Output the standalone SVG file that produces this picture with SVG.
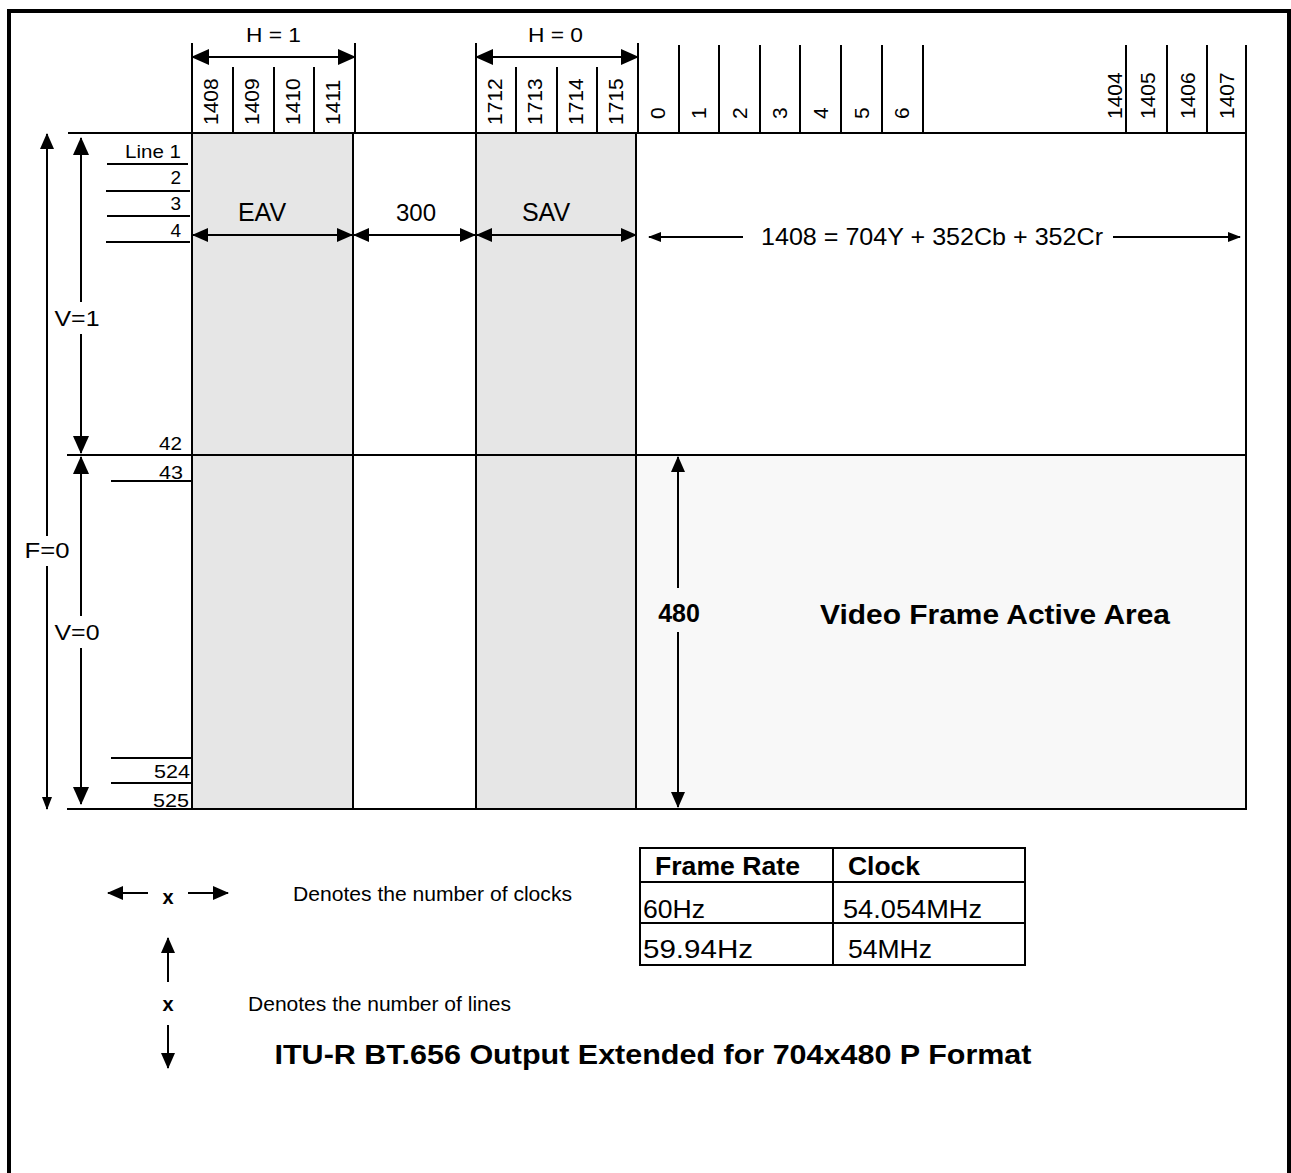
<svg xmlns="http://www.w3.org/2000/svg" width="1291" height="1173" viewBox="0 0 1291 1173">
<style>
text{font-family:"Liberation Sans",Arial,sans-serif;fill:#000}
.b{font-weight:bold}
.ln{stroke:#000;stroke-width:2;fill:none}
.th{stroke:#000;stroke-width:1.8;fill:none}
.num{font-size:21px}
.lab{font-size:19px}
.end{text-anchor:end}
.mid{text-anchor:middle}
.tb{font-size:25px}
.blk{fill:#e6e6e6;stroke:#000;stroke-width:2}
.act{fill:#f8f8f8;stroke:#000;stroke-width:2}
</style>
<defs>
<marker id="ah" viewBox="0 0 18 16" refX="17" refY="8" markerWidth="18" markerHeight="16" markerUnits="userSpaceOnUse" orient="auto-start-reverse"><path d="M0,0 L18,8 L0,16 z" fill="#000"/></marker>
<marker id="am" viewBox="0 0 16 14" refX="15" refY="7" markerWidth="16" markerHeight="14" markerUnits="userSpaceOnUse" orient="auto-start-reverse"><path d="M0,0 L16,7 L0,14 z" fill="#000"/></marker>
<marker id="as" viewBox="0 0 13 10" refX="12" refY="5" markerWidth="13" markerHeight="10" markerUnits="userSpaceOnUse" orient="auto-start-reverse"><path d="M0,0 L13,5 L0,10 z" fill="#000"/></marker>
</defs>
<rect x="9" y="11" width="1280" height="1200" fill="#fff" stroke="#000" stroke-width="4"/>

<g id="frame">
<rect id="eav-block" class="blk" x="192" y="133" width="161" height="676"/>
<rect id="sav-block" class="blk" x="476" y="133" width="160" height="676"/>
<rect id="active-area" class="act" x="636" y="455" width="610" height="354"/>
<line class="ln" x1="68" y1="133" x2="1246" y2="133"/>
<line class="ln" x1="67" y1="455" x2="1246" y2="455"/>
<line class="ln" x1="67" y1="809" x2="1246" y2="809"/>
<line class="ln" x1="1246" y1="45" x2="1246" y2="809"/>
</g>

<g id="header-eav">
<line class="ln" x1="192" y1="43" x2="192" y2="133"/>
<line class="ln" x1="233" y1="67" x2="233" y2="133"/>
<line class="ln" x1="274" y1="67" x2="274" y2="133"/>
<line class="ln" x1="314" y1="67" x2="314" y2="133"/>
<line class="ln" x1="355" y1="43" x2="355" y2="133"/>
<text x="273.5" y="42" font-size="21" class="mid" textLength="55" lengthAdjust="spacingAndGlyphs">H = 1</text>
<text class="num" transform="translate(218,125) rotate(-90)">1408</text>
<text class="num" transform="translate(259,125) rotate(-90)">1409</text>
<text class="num" transform="translate(300,125) rotate(-90)">1410</text>
<text class="num" transform="translate(340,125) rotate(-90)">1411</text>
</g>

<g id="header-sav">
<line class="ln" x1="476" y1="43" x2="476" y2="133"/>
<line class="ln" x1="516" y1="67" x2="516" y2="133"/>
<line class="ln" x1="557" y1="67" x2="557" y2="133"/>
<line class="ln" x1="597" y1="67" x2="597" y2="133"/>
<line class="ln" x1="638" y1="43" x2="638" y2="133"/>
<text x="555.5" y="42" font-size="21" class="mid" textLength="55" lengthAdjust="spacingAndGlyphs">H = 0</text>
<text class="num" transform="translate(502,125) rotate(-90)">1712</text>
<text class="num" transform="translate(542,125) rotate(-90)">1713</text>
<text class="num" transform="translate(583,125) rotate(-90)">1714</text>
<text class="num" transform="translate(623,125) rotate(-90)">1715</text>
</g>

<g id="header-active">
<line class="ln" x1="679" y1="45" x2="679" y2="133"/>
<line class="ln" x1="719" y1="45" x2="719" y2="133"/>
<line class="ln" x1="760" y1="45" x2="760" y2="133"/>
<line class="ln" x1="800" y1="45" x2="800" y2="133"/>
<line class="ln" x1="841" y1="45" x2="841" y2="133"/>
<line class="ln" x1="882" y1="45" x2="882" y2="133"/>
<line class="ln" x1="923" y1="45" x2="923" y2="133"/>
<line class="ln" x1="1126" y1="45" x2="1126" y2="133"/>
<line class="ln" x1="1167" y1="45" x2="1167" y2="133"/>
<line class="ln" x1="1207" y1="45" x2="1207" y2="133"/>
<text class="num" transform="translate(665,119) rotate(-90)">0</text>
<text class="num" transform="translate(706,119) rotate(-90)">1</text>
<text class="num" transform="translate(747,119) rotate(-90)">2</text>
<text class="num" transform="translate(787,119) rotate(-90)">3</text>
<text class="num" transform="translate(828,119) rotate(-90)">4</text>
<text class="num" transform="translate(869,119) rotate(-90)">5</text>
<text class="num" transform="translate(909,119) rotate(-90)">6</text>
<text class="num" transform="translate(1122,119) rotate(-90)">1404</text>
<text class="num" transform="translate(1155,119) rotate(-90)">1405</text>
<text class="num" transform="translate(1195,119) rotate(-90)">1406</text>
<text class="num" transform="translate(1234,119) rotate(-90)">1407</text>
</g>

<g id="line-labels">
<line class="th" x1="107" y1="164" x2="188" y2="164"/>
<line class="th" x1="106" y1="191" x2="190" y2="191"/>
<line class="th" x1="107" y1="216" x2="190" y2="216"/>
<line class="th" x1="106" y1="242" x2="190" y2="242"/>
<line class="th" x1="111" y1="481" x2="192" y2="481"/>
<line class="th" x1="111" y1="758" x2="192" y2="758"/>
<line class="th" x1="111" y1="783" x2="192" y2="783"/>
<text class="lab end" x="181" y="158" textLength="56" lengthAdjust="spacingAndGlyphs">Line 1</text>
<text class="lab end" x="181" y="184">2</text>
<text class="lab end" x="181" y="210">3</text>
<text class="lab end" x="181" y="237">4</text>
<text class="lab end" x="182" y="450" textLength="23" lengthAdjust="spacingAndGlyphs">42</text>
<text class="lab end" x="183" y="479" textLength="24" lengthAdjust="spacingAndGlyphs">43</text>
<text class="lab end" x="190" y="778" textLength="36" lengthAdjust="spacingAndGlyphs">524</text>
<text class="lab end" x="189" y="807" textLength="36" lengthAdjust="spacingAndGlyphs">525</text>
</g>

<g id="block-labels">
<text x="262" y="221" font-size="25" class="mid">EAV</text>
<text x="416" y="221" font-size="24" class="mid">300</text>
<text x="546" y="221" font-size="25" class="mid">SAV</text>
<text x="932" y="245" font-size="24" class="mid" textLength="342" lengthAdjust="spacingAndGlyphs">1408 = 704Y + 352Cb + 352Cr</text>
<text x="679" y="622" font-size="25" class="b mid">480</text>
<text x="995" y="624" font-size="27" class="b mid" textLength="350" lengthAdjust="spacingAndGlyphs">Video Frame Active Area</text>
<text x="77" y="326" font-size="22" class="mid" textLength="45" lengthAdjust="spacingAndGlyphs">V=1</text>
<text x="47" y="558" font-size="22" class="mid" textLength="45" lengthAdjust="spacingAndGlyphs">F=0</text>
<text x="77" y="640" font-size="22" class="mid" textLength="45" lengthAdjust="spacingAndGlyphs">V=0</text>
</g>

<g id="connectors">
<line class="ln" x1="192" y1="57" x2="355" y2="57" marker-start="url(#ah)" marker-end="url(#ah)"/>
<line class="ln" x1="476" y1="57" x2="638" y2="57" marker-start="url(#ah)" marker-end="url(#ah)"/>
<line class="ln" x1="193" y1="235" x2="352" y2="235" marker-start="url(#am)" marker-end="url(#am)"/>
<line class="ln" x1="354" y1="235" x2="475" y2="235" marker-start="url(#am)" marker-end="url(#am)"/>
<line class="ln" x1="477" y1="235" x2="636" y2="235" marker-start="url(#am)" marker-end="url(#am)"/>
<line class="th" x1="649" y1="237" x2="743" y2="237" marker-start="url(#as)"/>
<line class="th" x1="1113" y1="237" x2="1240" y2="237" marker-end="url(#as)"/>
<line class="ln" x1="678" y1="457" x2="678" y2="588" marker-start="url(#am)"/>
<line class="ln" x1="678" y1="632" x2="678" y2="807" marker-end="url(#am)"/>
<line class="ln" x1="47" y1="134" x2="47" y2="536" marker-start="url(#am)"/>
<line class="ln" x1="47" y1="566" x2="47" y2="809" marker-end="url(#as)"/>
<line class="ln" x1="81" y1="138" x2="81" y2="302" marker-start="url(#ah)"/>
<line class="ln" x1="81" y1="334" x2="81" y2="453" marker-end="url(#ah)"/>
<line class="ln" x1="81" y1="457" x2="81" y2="616" marker-start="url(#ah)"/>
<line class="ln" x1="81" y1="648" x2="81" y2="804" marker-end="url(#ah)"/>
</g>

<g id="legend">
<line class="ln" x1="108" y1="893" x2="148" y2="893" marker-start="url(#am)"/>
<line class="ln" x1="188" y1="893" x2="228" y2="893" marker-end="url(#am)"/>
<text x="168" y="904" font-size="20" class="b mid">x</text>
<text x="293" y="901" font-size="20" textLength="279" lengthAdjust="spacingAndGlyphs">Denotes the number of clocks</text>
<line class="ln" x1="168" y1="938" x2="168" y2="982" marker-start="url(#am)"/>
<text x="168" y="1011" font-size="20" class="b mid">x</text>
<line class="ln" x1="168" y1="1025" x2="168" y2="1068" marker-end="url(#am)"/>
<text x="248" y="1011" font-size="20" textLength="263" lengthAdjust="spacingAndGlyphs">Denotes the number of lines</text>
</g>

<g id="table">
<rect x="640" y="848" width="385" height="117" fill="none" stroke="#000" stroke-width="2"/>
<line class="ln" x1="640" y1="882" x2="1025" y2="882"/>
<line class="ln" x1="640" y1="923" x2="1025" y2="923"/>
<line class="ln" x1="833" y1="848" x2="833" y2="965"/>
<text x="655" y="875" class="tb b" textLength="145" lengthAdjust="spacingAndGlyphs">Frame Rate</text>
<text x="848" y="875" class="tb b" textLength="72" lengthAdjust="spacingAndGlyphs">Clock</text>
<text x="643" y="918" class="tb" textLength="62" lengthAdjust="spacingAndGlyphs">60Hz</text>
<text x="843" y="918" class="tb" textLength="139" lengthAdjust="spacingAndGlyphs">54.054MHz</text>
<text x="643" y="958" class="tb" textLength="110" lengthAdjust="spacingAndGlyphs">59.94Hz</text>
<text x="848" y="958" class="tb" textLength="84" lengthAdjust="spacingAndGlyphs">54MHz</text>
</g>

<g id="title">
<text x="653" y="1064" font-size="27" class="b mid" textLength="757" lengthAdjust="spacingAndGlyphs">ITU-R BT.656 Output Extended for 704x480 P Format</text>
</g>
</svg>
